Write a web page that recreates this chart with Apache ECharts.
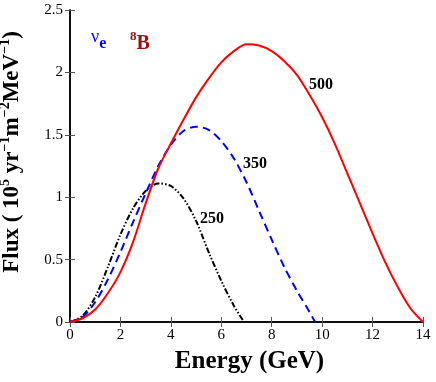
<!DOCTYPE html>
<html>
<head>
<meta charset="utf-8">
<script src="https://cdn.jsdelivr.net/npm/echarts@6/dist/echarts.min.js"></script>
<style>
  html, body { margin: 0; padding: 0; background: #fff; }
  #chart { width: 436px; height: 382px; }
</style>
</head>
<body>
<div id="chart"></div>
<script>
// energy (GeV) grid and flux values, one array per gamma
var energy500 = [0, 0.5, 1, 1.5, 2, 2.5, 3, 3.5, 4, 4.5, 5, 5.5, 6, 6.5, 7, 7.5, 8, 8.5, 9, 9.5, 10, 10.5, 11, 11.5, 12, 12.5, 13, 13.5, 14];
var flux500   = [0, 0.03, 0.10, 0.23, 0.40, 0.64, 0.95, 1.23, 1.43, 1.62, 1.80, 1.95, 2.08, 2.17, 2.225, 2.215, 2.17, 2.09, 1.98, 1.82, 1.64, 1.43, 1.19, 0.95, 0.71, 0.48, 0.28, 0.11, 0];

var energy350 = [0, 0.5, 1, 1.5, 2, 2.5, 3, 3.5, 4, 4.5, 5, 5.5, 6, 6.5, 7, 7.5, 8, 8.5, 9, 9.5, 9.72];
var flux350   = [0, 0.04, 0.16, 0.34, 0.56, 0.80, 1.03, 1.25, 1.42, 1.53, 1.565, 1.54, 1.45, 1.31, 1.12, 0.89, 0.66, 0.44, 0.25, 0.08, 0];

var energy250 = [0, 0.5, 1, 1.5, 2, 2.5, 3, 3.5, 4, 4.5, 5, 5.5, 6, 6.5, 6.9];
var flux250   = [0, 0.05, 0.20, 0.44, 0.70, 0.91, 1.05, 1.11, 1.09, 0.99, 0.81, 0.56, 0.33, 0.13, 0];

var xTicks = [0, 2, 4, 6, 8, 10, 12, 14];
var yTicks = [0, 0.5, 1, 1.5, 2, 2.5];

function pairs(xs, ys) {
    return xs.map(function (x, i) { return [x, ys[i]]; });
}

var chart = echarts.init(document.getElementById('chart'));

var serif = '"Liberation Serif", "DejaVu Serif", serif';
var axisLine = { show: true, lineStyle: { color: '#000', width: 1.5 } };
var ticks = { show: true, inside: true, length: 5, lineStyle: { color: '#555', width: 1 } };

var option = {
    animation: false,
    grid: { left: 70, right: 13, top: 10, bottom: 60, containLabel: false, outerBoundsMode: 'none' },
    xAxis: [{
        type: 'value',
        min: 0, max: 14, interval: 2,
        axisLine: axisLine,
        axisTick: ticks,
        splitLine: { show: false },
        axisLabel: {
            color: '#000', fontFamily: serif, fontSize: 15, margin: 6,
            formatter: function (v) { return xTicks.indexOf(v) >= 0 ? String(v) : ''; }
        },
        name: 'Energy (GeV)',
        nameLocation: 'middle',
        nameGap: 27,
        nameTextStyle: { color: '#000', fontFamily: serif, fontSize: 25, fontWeight: 'bold', padding: [0, 0, 0, 6] }
    }, {
        type: 'value', position: 'top',
        min: 0, max: 14, interval: 2,
        axisLine: axisLine, axisTick: ticks,
        axisLabel: { show: false }, splitLine: { show: false }
    }],
    yAxis: [{
        type: 'value',
        min: 0, max: 2.5, interval: 0.5,
        axisLine: axisLine,
        axisTick: ticks,
        splitLine: { show: false },
        axisLabel: {
            color: '#000', fontFamily: serif, fontSize: 15, margin: 7,
            formatter: function (v) { return yTicks.indexOf(v) >= 0 ? String(v) : ''; }
        }
    }, {
        type: 'value', position: 'right',
        min: 0, max: 2.5, interval: 0.5,
        axisLine: axisLine, axisTick: ticks,
        axisLabel: { show: false }, splitLine: { show: false }
    }],
    series: [{
        name: '500',
        type: 'line',
        smooth: 0.3,
        showSymbol: false,
        data: pairs(energy500, flux500),
        lineStyle: { color: '#ff0000', width: 2 },
        z: 3
    }, {
        name: '350',
        type: 'line',
        smooth: 0.3,
        showSymbol: false,
        data: pairs(energy350, flux350),
        lineStyle: { color: '#0000ff', width: 2, type: [8, 5] },
        z: 2
    }, {
        name: '250',
        type: 'line',
        smooth: 0.3,
        showSymbol: false,
        data: pairs(energy250, flux250),
        lineStyle: { color: '#000', width: 2, type: [6, 2, 1.5, 2, 1.5, 2] },
        z: 1
    }],
    graphic: [
        // y axis title, rotated
        {
            type: 'text', x: 11, y: 152, rotation: Math.PI / 2,
            style: {
                text: '{b|Flux ( 10}{s|5}{b| yr}{s|−1}{b|m}{s|−2}{b|MeV}{s|−1}{b|)}',
                align: 'center', verticalAlign: 'middle',
                rich: {
                    b: { fill: '#000', font: 'bold 23px ' + serif, verticalAlign: 'bottom', lineHeight: 26 },
                    s: { fill: '#000', font: 'bold 14px ' + serif, verticalAlign: 'top', lineHeight: 26 }
                }
            }
        },
        { type: 'text', left: 309, top: 77, style: { text: '500', fill: '#000', font: 'bold 16px ' + serif } },
        { type: 'text', left: 243, top: 156, style: { text: '350', fill: '#000', font: 'bold 16px ' + serif } },
        { type: 'text', left: 200, top: 211, style: { text: '250', fill: '#000', font: 'bold 16px ' + serif } },
        {
            type: 'text', left: 91, top: 28,
            style: {
                text: '{n|ν}{e|e}',
                rich: {
                    n: { fill: '#0000ff', font: '18px ' + serif, verticalAlign: 'top', lineHeight: 24 },
                    e: { fill: '#0000ff', font: 'bold 16px ' + serif, verticalAlign: 'bottom', lineHeight: 24 }
                }
            }
        },
        {
            type: 'text', left: 130, top: 30,
            style: {
                text: '{s|8}{b|B}',
                rich: {
                    s: { fill: '#9b1010', font: 'bold 13px ' + serif, verticalAlign: 'top', lineHeight: 24 },
                    b: { fill: '#9b1010', font: 'bold 20px ' + serif, verticalAlign: 'bottom', lineHeight: 24 }
                }
            }
        }
    ]
};

chart.setOption(option);
</script>
</body>
</html>
